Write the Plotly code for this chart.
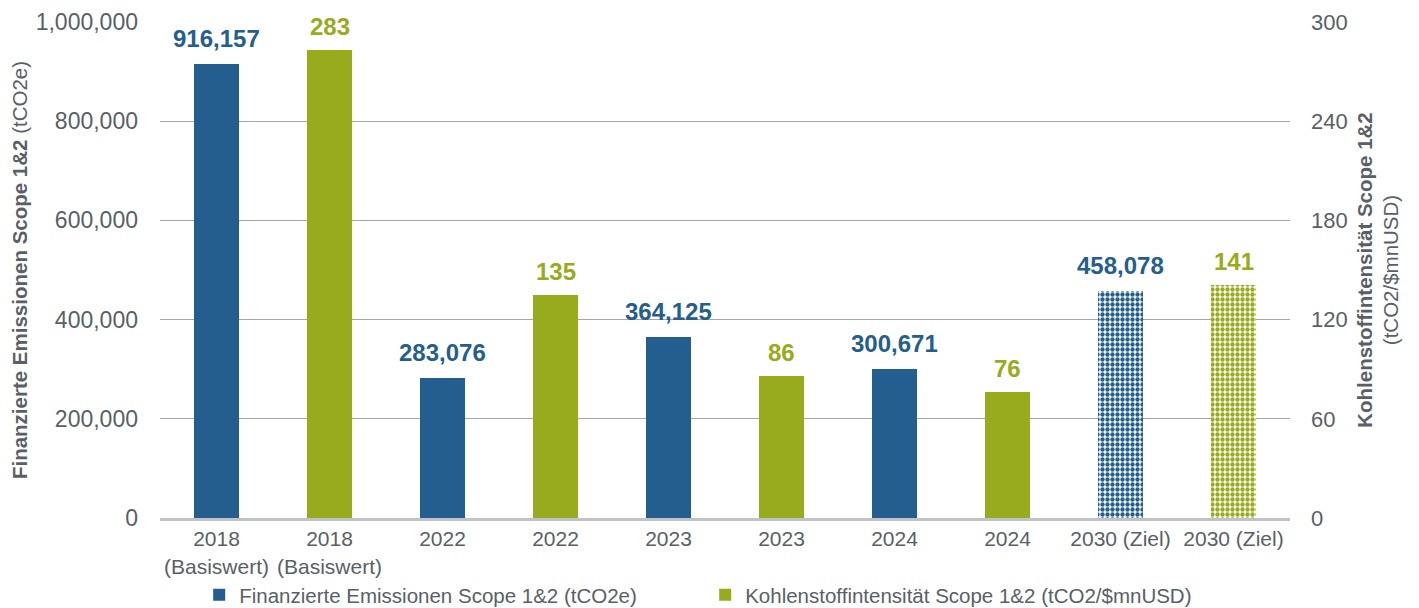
import plotly.graph_objects as go

tick_labels = ["2018<br>(Basiswert)", "2018<br>(Basiswert)", "2022", "2022", "2023", "2023",
               "2024", "2024", "2030 (Ziel)", "2030 (Ziel)"]
emis_x = [0, 2, 4, 6, 8]
emis_vals = [916157, 283076, 364125, 300671, 458078]
int_x = [1, 3, 5, 7, 9]
int_vals = [283, 135, 86, 76, 141]
target_flags = [False, False, False, False, True]

BLUE = "#235E8E"
GREEN = "#97AB1C"
GRAY = "#595F66"
FONT = "Liberation Sans, Arial, sans-serif"

def patterns(color):
    return dict(shape=["" if not t else "." for t in target_flags],
                fgcolor=color, bgcolor="white", size=5, solidity=0.6,
                fillmode="replace")

fig = go.Figure()
fig.add_trace(go.Bar(
    x=emis_x, y=emis_vals, name="Finanzierte Emissionen Scope 1&2 (tCO2e)",
    marker=dict(color=BLUE, line=dict(width=0), pattern=patterns(BLUE)),
    width=0.4, yaxis="y"))
fig.add_trace(go.Bar(
    x=int_x, y=int_vals, name="Kohlenstoffintensität Scope 1&2 (tCO2/$mnUSD)",
    marker=dict(color=GREEN, line=dict(width=0), pattern=patterns(GREEN)),
    width=0.4, yaxis="y2"))

for xv, v in zip(emis_x, emis_vals):
    fig.add_annotation(x=xv, y=v, xref="x", yref="y", text=f"<b>{v:,}</b>",
                       showarrow=False, yanchor="bottom", yshift=10,
                       font=dict(family=FONT, size=24, color=BLUE))
for xv, v in zip(int_x, int_vals):
    fig.add_annotation(x=xv, y=v, xref="x", yref="y2", text=f"<b>{v}</b>",
                       showarrow=False, yanchor="bottom", yshift=8,
                       font=dict(family=FONT, size=24, color=GREEN))

fig.update_layout(
    width=1411, height=600,
    margin=dict(l=152, r=129, t=14, b=90, autoexpand=False),
    paper_bgcolor="white", plot_bgcolor="white",
    font=dict(family=FONT, color=GRAY, size=21),
    barmode="overlay", bargap=0,
    showlegend=True,
    legend=dict(orientation="h", xref="container", x=0.1355, xanchor="left",
                yref="container", y=0.022, yanchor="middle",
                bgcolor="rgba(0,0,0,0)",
                font=dict(size=20.5, color=GRAY), itemwidth=30,
                entrywidth=461, traceorder="normal"),
    xaxis=dict(tickmode="array", tickvals=list(range(10)), ticktext=tick_labels,
               range=[-0.5, 9.5], showgrid=False, showline=True, linecolor="#BFC2C6",
               linewidth=3, ticks="", tickfont=dict(size=21, color=GRAY), zeroline=False,
               automargin=False),
    yaxis=dict(range=[0, 1000000], tickvals=[0, 200000, 400000, 600000, 800000, 1000000],
               tickformat=",", showgrid=True, gridcolor="#A6A6A6", gridwidth=1,
               zeroline=False, showline=False, ticks="", ticklabelstandoff=21,
               tickfont=dict(size=23, color=GRAY), automargin=False,
               title=dict(text="<b>Finanzierte Emissionen Scope 1&2</b> (tCO2e)",
                          font=dict(size=20.5, color=GRAY), standoff=9)),
    yaxis2=dict(range=[0, 300], tickvals=[0, 60, 120, 180, 240, 300], overlaying="y",
                side="right", showgrid=False, zeroline=False, showline=False,
                ticks="", ticklabelstandoff=20, automargin=False,
                tickfont=dict(size=22, color=GRAY),
                title=dict(text="<b>Kohlenstoffintensität Scope 1&2</b><br>(tCO2/$mnUSD)",
                           font=dict(size=20.5, color=GRAY), standoff=10)),
)

fig.write_html("out.html")
